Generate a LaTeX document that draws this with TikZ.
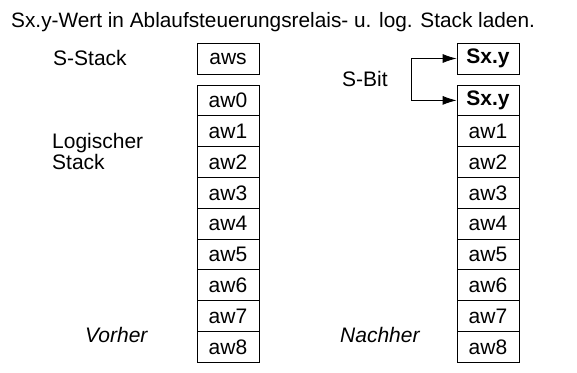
\documentclass[tikz,border=0pt]{standalone}
\usepackage{fontspec}
\setmainfont{Liberation Sans}
\usetikzlibrary{arrows.meta, positioning}

\begin{document}
\begin{tikzpicture}[
    x=1pt, y=-1pt,
    cell/.style={
        rectangle, draw=black, line width=0.8pt,
        minimum width=62pt, minimum height=30.8pt,
        inner sep=0pt, font=\fontsize{21}{21}\selectfont
    },
    label/.style={
        font=\fontsize{21}{21}\selectfont, inner sep=0pt
    },
    sbit/.style={
        -{Latex[length=14pt, width=9pt]}, line width=0.8pt
    }
]
\useasboundingbox (0,0) rectangle (577,372);

% Title
\node[label, anchor=base west, font=\fontsize{20.8}{22}\selectfont] (title) at (11,27)
    {Sx.y-Wert in Ablaufsteuerungsrelais- u. log. Stack laden.};

% --- Vorher ---
\node[label, anchor=base west] (sstack) at (53,65) {S-Stack};
\node[label, anchor=base west, align=left] (logik) at (52,169)
    {Logischer\\Stack};
\node[label, anchor=base west, font=\fontsize{21}{21}\selectfont\itshape]
    (vorher) at (85,342) {Vorher};

\node[cell] (aws) at (228,58.5) {aws};
\foreach \i in {0,...,8} {
    \node[cell] (L\i) at (228,{100.4+\i*30.8}) {aw\i};
}

% --- Nachher ---
\node[label, anchor=base west] (sbit) at (342,86) {S-Bit};
\node[label, anchor=base west, font=\fontsize{21}{21}\selectfont\itshape]
    (nachher) at (340,342) {Nachher};

\node[cell, font=\fontsize{21}{21}\selectfont\bfseries] (top) at (488,58.5) {Sx.y};
\node[cell, font=\fontsize{21}{21}\selectfont\bfseries] (R0) at (488,100.4) {Sx.y};
\foreach \i in {1,...,8} {
    \node[cell] (R\i) at (488,{100.4+\i*30.8}) {aw\i};
}

% S-Bit arrows
\coordinate (fork) at (411,0);
\draw[sbit] (fork |- R0.west) -- (fork |- top.west) -- (top.west);
\draw[sbit] (fork |- top.west) -- (fork |- R0.west) -- (R0.west);

\end{tikzpicture}
\end{document}
